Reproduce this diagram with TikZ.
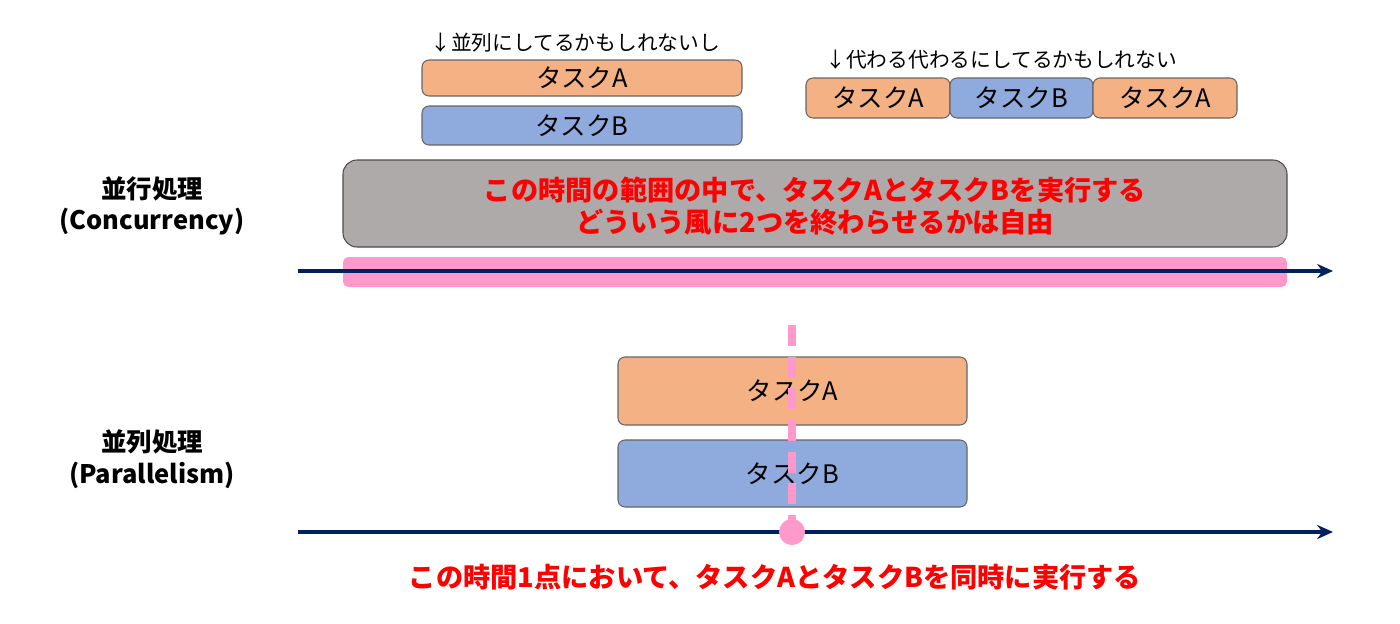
\documentclass[tikz,border=0pt]{standalone}
\usepackage{fontspec}
\setmainfont{Noto Sans CJK JP}
\usetikzlibrary{arrows.meta}
\definecolor{tA}{HTML}{F4B183}
\definecolor{tB}{HTML}{8FAADC}
\definecolor{gbox}{HTML}{AEAAAA}
\definecolor{pk}{HTML}{FF99CC}
\definecolor{nv}{HTML}{002060}
\definecolor{rd}{HTML}{FF0000}
\tikzset{
 task/.style={draw=black!60, line width=0.6pt, rounded corners=4pt, font=\fontsize{14.5}{16}\selectfont},
 taskA/.style={task, fill=tA},
 taskB/.style={task, fill=tB},
 small/.style={font=\fontsize{11.8}{13}\selectfont, anchor=west, inner sep=0},
 side/.style={font=\bfseries\fontsize{14.5}{18}\selectfont, align=center},
 redtxt/.style={text=rd, font=\bfseries\fontsize{15.5}{18.5}\selectfont, align=center},
 axis/.style={draw=nv, line width=1.8pt, -{Stealth[length=9pt,width=8pt]}}
}
\begin{document}
\begin{tikzpicture}[x=0.02cm,y=-0.02cm]
\useasboundingbox (0,0) rectangle (1400,623);
% top left
\node[small] (l1) at (430,43) {↓並列にしてるかもしれないし};
\node[taskA, minimum width=320*0.02cm, minimum height=36*0.02cm] (a1) at (582,78) {タスクA};
\node[taskB, minimum width=320*0.02cm, minimum height=39*0.02cm] (b1) at (582,125.5) {タスクB};
% top right
\node[small] (l2) at (825,60) {↓代わる代わるにしてるかもしれない};
\node[taskA, minimum width=144*0.02cm, minimum height=40*0.02cm] (a2) at (878,98) {タスクA};
\node[taskB, minimum width=143*0.02cm, minimum height=40*0.02cm] (b2) at (1021.5,98) {タスクB};
\node[taskA, minimum width=144*0.02cm, minimum height=40*0.02cm] (a3) at (1165,98) {タスクA};
% concurrency
\node[draw=black!70, fill=gbox, line width=0.6pt, rounded corners=8pt, minimum width=944*0.02cm, minimum height=87*0.02cm] (g) at (815,203.5) {};
\node[redtxt] (gt) at (815,206) {この時間の範囲の中で、タスクAとタスクBを実行する\\どういう風に2つを終わらせるかは自由};
\node[side] (s1) at (152,206) {並行処理\\(Concurrency)};
\node[fill=pk, rounded corners=3pt, minimum width=944*0.02cm, minimum height=30*0.02cm, inner sep=0] (pb) at (815,272) {};
\coordinate (ax1s) at (298,271); \coordinate (ax1e) at (1333,271);
\draw[axis] (ax1s) -- (ax1e);
% parallelism
\node[taskA, minimum width=349*0.02cm, minimum height=68*0.02cm] (a4) at (792.5,391) {タスクA};
\node[taskB, minimum width=349*0.02cm, minimum height=67*0.02cm] (b4) at (792.5,473.5) {タスクB};
\node[side] (s2) at (152,459) {並列処理\\(Parallelism)};
\coordinate (ax2s) at (298,532); \coordinate (ax2e) at (1333,532);
\draw[axis] (ax2s) -- (ax2e);
\coordinate (dt) at (792,325);
\node[circle, fill=pk, minimum size=26*0.02cm, inner sep=0] (pt) at (792,532) {};
\draw[pk, line width=4pt, dash pattern=on 12pt off 6pt] (dt) -- (pt.center);
\node[redtxt] (pt2) at (775,577) {この時間1点において、タスクAとタスクBを同時に実行する};
\end{tikzpicture}
\end{document}
